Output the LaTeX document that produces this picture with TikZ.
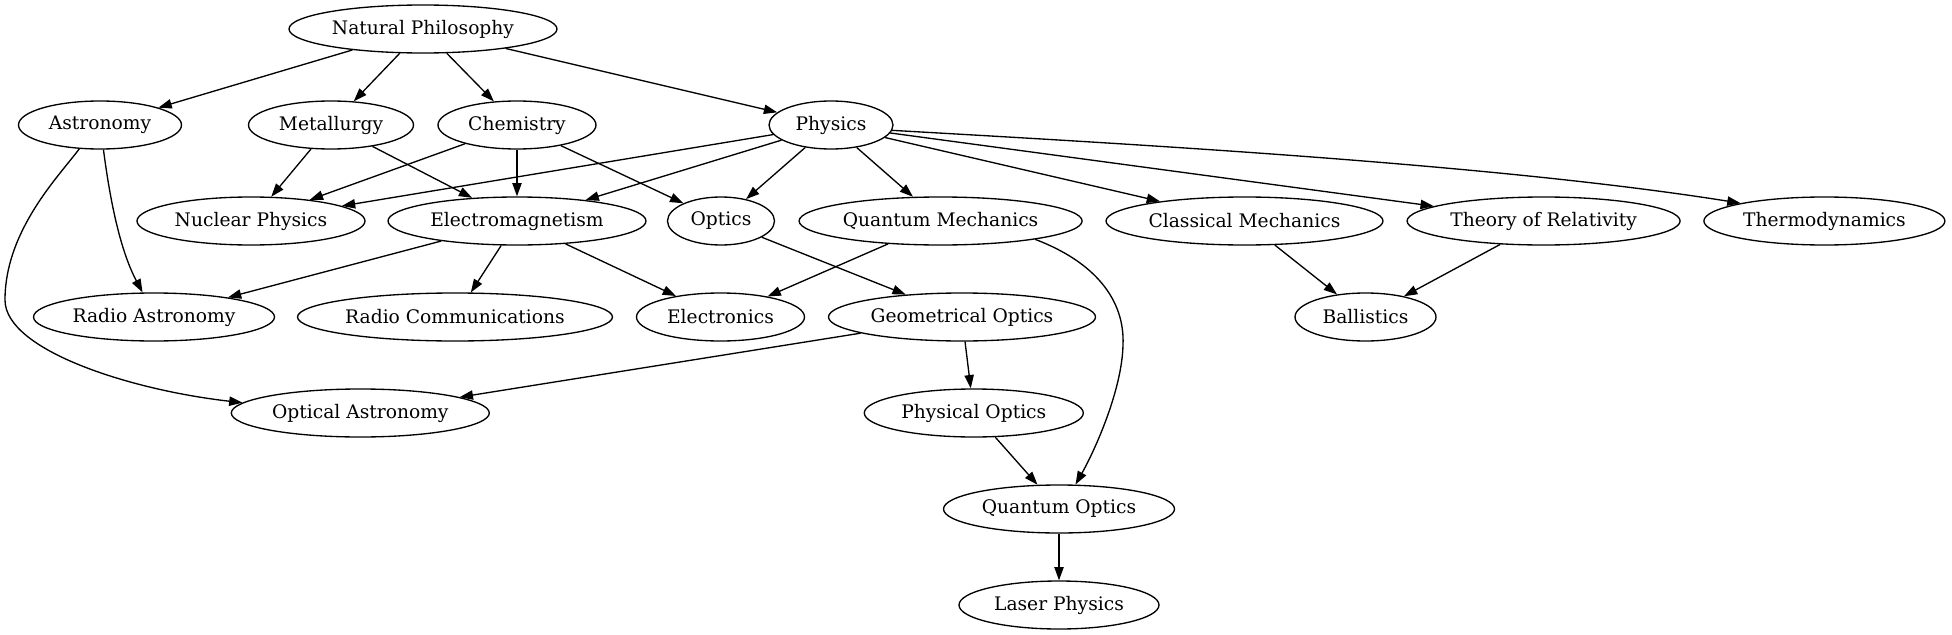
\documentclass[tikz,border=0pt]{standalone}
\usepackage{fontspec}
\setmainfont{DejaVu Serif}
\usetikzlibrary{shapes.geometric,arrows.meta}
\begin{document}
\begin{tikzpicture}[x=0.75pt,y=-0.75pt,
  nd/.style={ellipse,draw,line width=1pt,minimum height=36pt,inner sep=0pt,
    font=\fontsize{14}{16}\selectfont},
  wd/.style={minimum width=#1*0.75pt},
  edge/.style={line width=1pt,-{Triangle[length=10pt,width=7pt]}}]
\useasboundingbox (0,0) rectangle (1952,635);
\node[nd,wd=268] (np) at (423,29) {Natural Philosophy};
\node[nd,wd=163] (ast) at (100,125) {Astronomy};
\node[nd,wd=165] (met) at (331,125) {Metallurgy};
\node[nd,wd=158] (chem) at (517,125) {Chemistry};
\node[nd,wd=124] (phys) at (831,125) {Physics};
\node[nd,wd=228] (nuc) at (251,221) {Nuclear Physics};
\node[nd,wd=258] (em) at (517,221) {Electromagnetism};
\node[nd,wd=107] (opt) at (721,221) {Optics};
\node[nd,wd=283] (qm) at (940.6,221) {Quantum Mechanics};
\node[nd,wd=277] (cm) at (1244.5,221) {Classical Mechanics};
\node[nd,wd=273] (tor) at (1543.6,221) {Theory of Relativity};
\node[nd,wd=241] (thermo) at (1824.4,221) {Thermodynamics};
\node[nd,wd=241] (ra) at (154,317) {Radio Astronomy};
\node[nd,wd=315] (rc) at (455,317) {Radio Communications};
\node[nd,wd=168] (elec) at (720.5,317) {Electronics};
\node[nd,wd=267] (go) at (962,317) {Geometrical Optics};
\node[nd,wd=141] (bal) at (1365.5,317) {Ballistics};
\node[nd,wd=258] (oa) at (360.3,413) {Optical Astronomy};
\node[nd,wd=219] (po) at (973.8,413) {Physical Optics};
\node[nd,wd=231] (qo) at (1059,509) {Quantum Optics};
\node[nd,wd=200] (lp) at (1059,605) {Laser Physics};

\draw[edge] (np) -- (ast);
\draw[edge] (np) -- (met);
\draw[edge] (np) -- (chem);
\draw[edge] (np) -- (phys);
\draw[edge] (ast.278) .. controls (110,200) and (120,250) .. (ra.115);
\draw[edge] (ast.229) .. controls (60,175) and (5,230) .. (5,300) .. controls (5,350) and (130,390) .. (oa.175);
\draw[edge] (met) -- (nuc);
\draw[edge] (met) -- (em);
\draw[edge] (chem) -- (nuc);
\draw[edge] (chem) -- (em);
\draw[edge] (chem) -- (opt);
\draw[edge] (phys) -- (nuc);
\draw[edge] (phys) -- (em);
\draw[edge] (phys) -- (opt);
\draw[edge] (phys) -- (qm);
\draw[edge] (phys) -- (cm);
\draw[edge] (phys) -- (tor);
\draw[edge] (phys.355) .. controls (1150,145) and (1500,165) .. (thermo.168);
\draw[edge] (em) -- (ra);
\draw[edge] (em) -- (rc);
\draw[edge] (em) -- (elec);
\draw[edge] (opt) -- (go);
\draw[edge] (qm) -- (elec);
\draw[edge] (qm.349) .. controls (1095,262) and (1125,300) .. (1123,345) .. controls (1122,390) and (1095,450) .. (qo.56);
\draw[edge] (cm) -- (bal);
\draw[edge] (tor) -- (bal);
\draw[edge] (go) -- (oa);
\draw[edge] (go) -- (po);
\draw[edge] (po) -- (qo);
\draw[edge] (qo) -- (lp);
\end{tikzpicture}
\end{document}
